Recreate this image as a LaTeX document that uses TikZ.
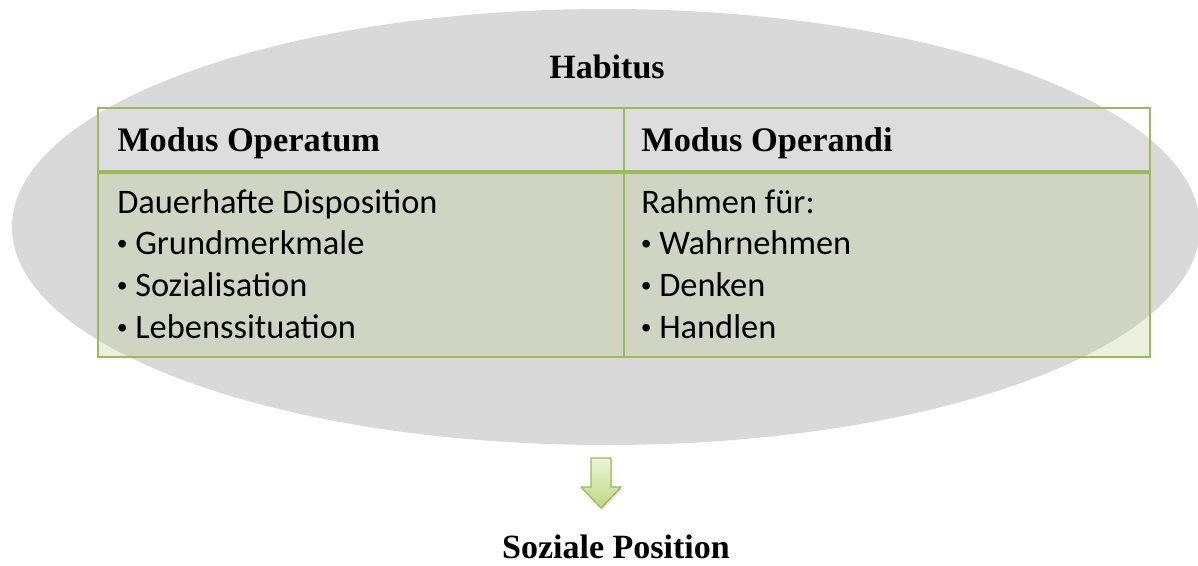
\documentclass[tikz,border=0pt]{standalone}
\usepackage{fontspec}
\setmainfont{Liberation Serif}
\newfontfamily\bodyfont{Carlito}
\newfontfamily\bulfont{Liberation Sans}
\usetikzlibrary{shadows}
\definecolor{ellgray}{RGB}{217,217,217}
\definecolor{tgreen}{RGB}{155,187,89}
\definecolor{cellfill}{RGB}{186,203,141}
\definecolor{arrtop}{RGB}{236,244,214}
\definecolor{arrbot}{RGB}{190,216,130}
\newcommand{\mybul}{\makebox[13.5pt][l]{\bulfont\fontsize{21}{24}\selectfont\raisebox{0.5pt}{•}}}
\begin{document}
\begin{tikzpicture}[x=0.75pt,y=-0.75pt,
  headtext/.style={font=\fontsize{25.8}{30}\selectfont\bfseries, anchor=base west, inner sep=0pt},
  titletext/.style={font=\fontsize{25.5}{30}\selectfont\bfseries, anchor=base, inner sep=0pt},
  bodytext/.style={font=\bodyfont\fontsize{25.8}{31}\selectfont, anchor=base west, inner sep=0pt},
  gridline/.style={draw=tgreen, line width=1.8pt}]
\useasboundingbox (0,0) rectangle (1198,565);
% ellipse
\fill[ellgray] (606,227) ellipse [x radius=594, y radius=218];
\node[titletext] (habitus) at (607,78) {Habitus};
% table cells
\coordinate (tl) at (98,108);
\coordinate (tr) at (1150,108);
\coordinate (bl) at (98,357);
\coordinate (br) at (1150,357);
\coordinate (ml) at (98,172);
\coordinate (mr) at (1150,172);
\coordinate (ct) at (624,108);
\coordinate (cb) at (624,357);
\fill[white, fill opacity=0.12] (tl) rectangle (mr);
\fill[cellfill, fill opacity=0.29] (ml) rectangle (br);
\draw[gridline] (tl) rectangle (br);
\draw[draw=tgreen, line width=2.6pt] (ml) -- (mr);
\draw[gridline] (ct) -- (cb);
% header texts
\node[headtext] (mop) at (117,151) {Modus Operatum};
\node[headtext] (mod) at (641,151) {Modus Operandi};
% body left
\node[bodytext] (l1) at (117,213) {Dauerhafte Disposition};
\node[bodytext] (l2) at (117,254) {\mybul Grundmerkmale};
\node[bodytext] (l3) at (117,296) {\mybul Sozialisation};
\node[bodytext] (l4) at (117,338) {\mybul Lebenssituation};
% body right
\node[bodytext] (r1) at (641,213) {Rahmen für:};
\node[bodytext] (r2) at (641,254) {\mybul Wahrnehmen};
\node[bodytext] (r3) at (641,296) {\mybul Denken};
\node[bodytext] (r4) at (641,338) {\mybul Handlen};
% arrow
\draw[draw=tgreen, line width=1pt, top color=arrtop, bottom color=arrbot,
  drop shadow={shadow xshift=1pt, shadow yshift=-1.5pt, opacity=0.25}]
  (591,458) -- (611,458) -- (611,487) -- (621,487) -- (601,508) -- (581,487) -- (591,487) -- cycle;
\node[titletext] (soz) at (616,558) {Soziale Position};
\end{tikzpicture}
\end{document}
